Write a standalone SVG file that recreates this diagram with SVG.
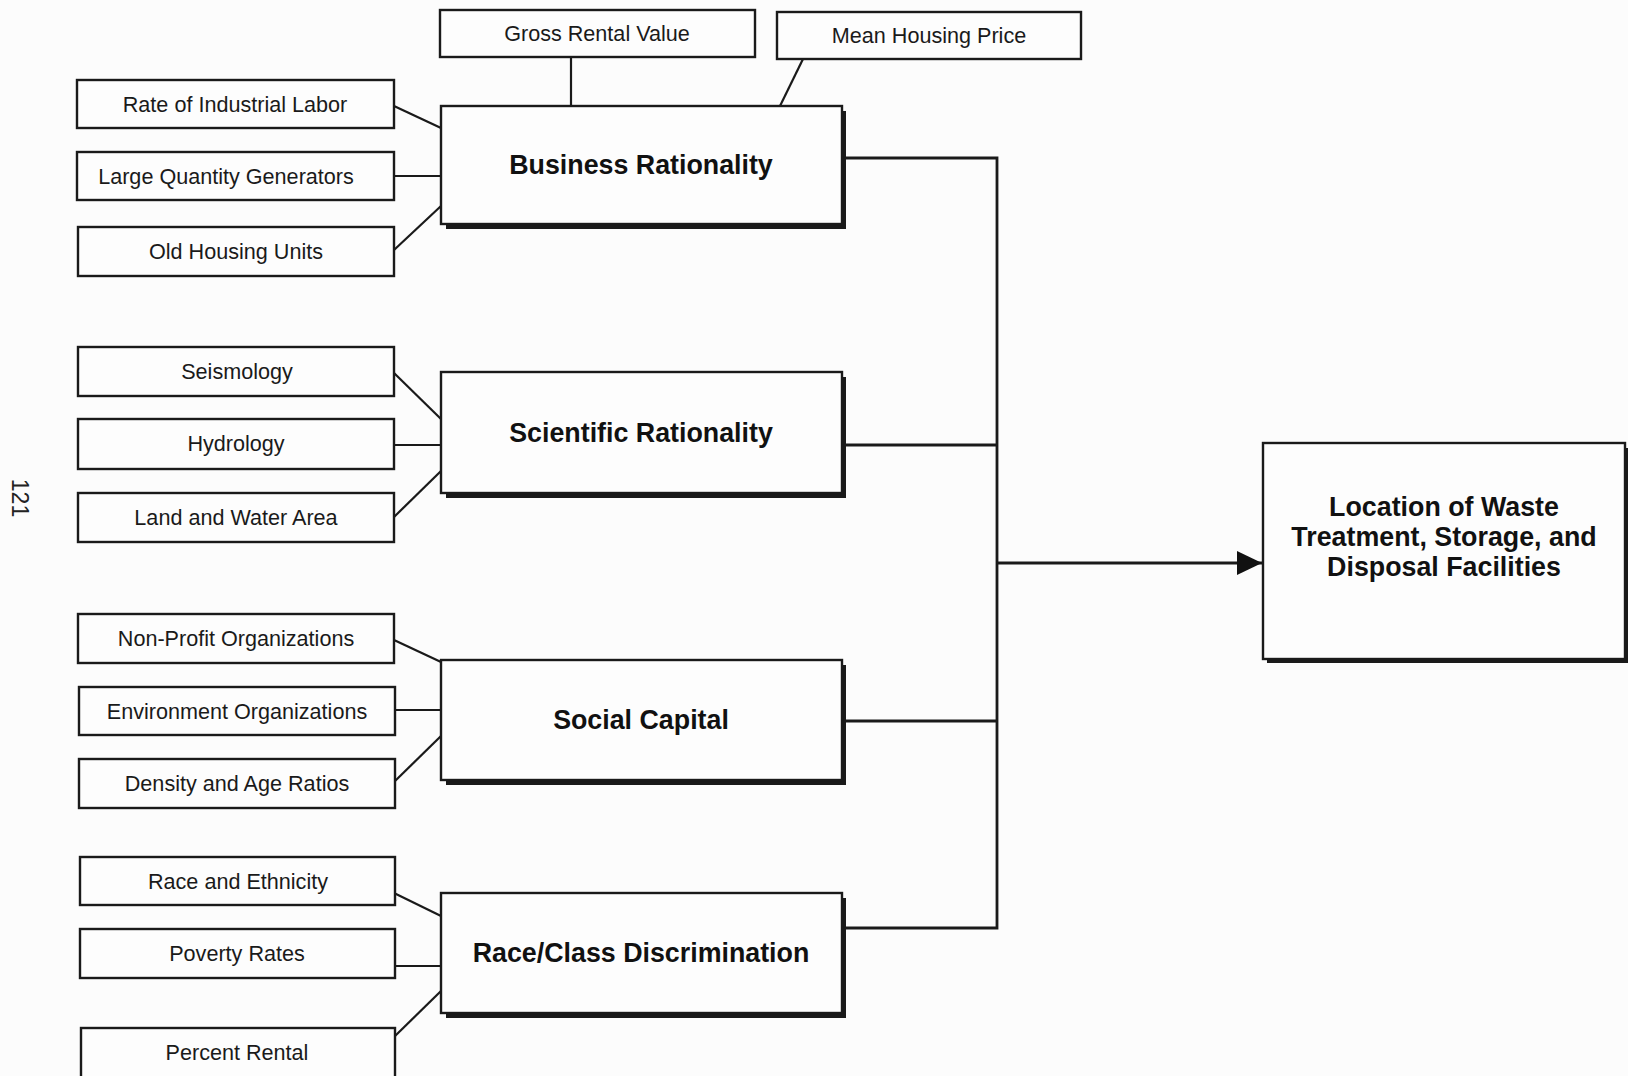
<svg xmlns="http://www.w3.org/2000/svg" width="1628" height="1076" viewBox="0 0 1628 1076">
<defs>
<style>
.bg{fill:#fcfcfc}
.sb{fill:#fdfdfd;stroke:#1a1a1a;stroke-width:2.4}
.mb{fill:#fdfdfd;stroke:#1a1a1a;stroke-width:2.4}
.sh{fill:#1a1a1a}
.st{font-family:"Liberation Sans",Arial,sans-serif;font-size:21.6px;fill:#1a1a1a;text-anchor:middle}
.mt{font-family:"Liberation Sans",Arial,sans-serif;font-size:26.8px;font-weight:bold;fill:#111;text-anchor:middle}
.ln{stroke:#1a1a1a;stroke-width:2.2;fill:none}
.bus{stroke:#1a1a1a;stroke-width:2.8;fill:none}
</style>
<marker id="arr" markerWidth="26" markerHeight="26" refX="25" refY="12" orient="auto" markerUnits="userSpaceOnUse">
<path d="M0,0 L25,12 L0,24 Z" fill="#111"/>
</marker>
</defs>
<rect class="bg" x="0" y="0" width="1628" height="1076"/>
<text x="20" y="498" transform="rotate(90 20 498)" style="font-family:'Liberation Sans',Arial,sans-serif;font-size:23px;fill:#222;text-anchor:middle" dy="8">121</text>

<g id="connectors">
<line class="ln" x1="571" y1="57" x2="571" y2="106"/>
<line class="ln" x1="803" y1="59" x2="780" y2="106"/>
<line class="ln" x1="394" y1="106" x2="441" y2="128"/>
<line class="ln" x1="394" y1="176" x2="441" y2="176"/>
<line class="ln" x1="394" y1="250" x2="441" y2="206"/>
<line class="ln" x1="394" y1="373" x2="441" y2="419"/>
<line class="ln" x1="394" y1="445" x2="441" y2="445"/>
<line class="ln" x1="394" y1="517" x2="441" y2="471"/>
<line class="ln" x1="394" y1="640" x2="441" y2="662"/>
<line class="ln" x1="394" y1="710" x2="441" y2="710"/>
<line class="ln" x1="394" y1="782" x2="441" y2="736"/>
<line class="ln" x1="394" y1="893" x2="441" y2="916"/>
<line class="ln" x1="394" y1="966" x2="441" y2="966"/>
<line class="ln" x1="394" y1="1037" x2="441" y2="991"/>
<polyline class="bus" points="845,158 997,158 997,928 845,928"/>
<line class="bus" x1="845" y1="445" x2="997" y2="445"/>
<line class="bus" x1="845" y1="721" x2="997" y2="721"/>
<line class="bus" x1="997" y1="563" x2="1262" y2="563" marker-end="url(#arr)"/>
</g>

<g id="gross-rental-value"><rect class="sb" x="440" y="10" width="315" height="47"/><text class="st" x="597" y="41">Gross Rental Value</text></g>
<g id="mean-housing-price"><rect class="sb" x="777" y="12" width="304" height="47"/><text class="st" x="929" y="43">Mean Housing Price</text></g>

<g id="rate-industrial-labor"><rect class="sb" x="77" y="80" width="317" height="48"/><text class="st" x="235" y="112">Rate of Industrial Labor</text></g>
<g id="large-quantity-generators"><rect class="sb" x="77" y="152" width="317" height="48"/><text class="st" x="226" y="184">Large Quantity Generators</text></g>
<g id="old-housing-units"><rect class="sb" x="78" y="227" width="316" height="49"/><text class="st" x="236" y="259">Old Housing Units</text></g>

<g id="seismology"><rect class="sb" x="78" y="347" width="316" height="49"/><text class="st" x="237" y="379">Seismology</text></g>
<g id="hydrology"><rect class="sb" x="78" y="419" width="316" height="50"/><text class="st" x="236" y="451">Hydrology</text></g>
<g id="land-water-area"><rect class="sb" x="78" y="493" width="316" height="49"/><text class="st" x="236" y="525">Land and Water Area</text></g>

<g id="non-profit-organizations"><rect class="sb" x="78" y="614" width="316" height="49"/><text class="st" x="236" y="646">Non-Profit Organizations</text></g>
<g id="environment-organizations"><rect class="sb" x="79" y="687" width="316" height="48"/><text class="st" x="237" y="719">Environment Organizations</text></g>
<g id="density-age-ratios"><rect class="sb" x="79" y="759" width="316" height="49"/><text class="st" x="237" y="791">Density and Age Ratios</text></g>

<g id="race-ethnicity"><rect class="sb" x="80" y="857" width="315" height="48"/><text class="st" x="238" y="889">Race and Ethnicity</text></g>
<g id="poverty-rates"><rect class="sb" x="80" y="929" width="315" height="49"/><text class="st" x="237" y="961">Poverty Rates</text></g>
<g id="percent-rental"><rect class="sb" x="81" y="1028" width="314" height="60"/><text class="st" x="237" y="1060">Percent Rental</text></g>

<g id="business-rationality"><rect class="sh" x="446" y="111" width="400" height="118"/><rect class="mb" x="441" y="106" width="401" height="118"/><text class="mt" x="641" y="174">Business Rationality</text></g>
<g id="scientific-rationality"><rect class="sh" x="446" y="377" width="400" height="121"/><rect class="mb" x="441" y="372" width="401" height="121"/><text class="mt" x="641" y="442">Scientific Rationality</text></g>
<g id="social-capital"><rect class="sh" x="446" y="665" width="400" height="120"/><rect class="mb" x="441" y="660" width="401" height="120"/><text class="mt" x="641" y="729">Social Capital</text></g>
<g id="race-class-discrimination"><rect class="sh" x="446" y="898" width="400" height="120"/><rect class="mb" x="441" y="893" width="401" height="120"/><text class="mt" x="641" y="962">Race/Class Discrimination</text></g>

<g id="location-facilities"><rect class="sh" x="1267" y="448" width="362" height="215"/><rect class="mb" x="1263" y="443" width="362" height="216"/>
<text class="mt" x="1444" y="516">Location of Waste</text>
<text class="mt" x="1444" y="546">Treatment, Storage, and</text>
<text class="mt" x="1444" y="576">Disposal Facilities</text></g>
</svg>
